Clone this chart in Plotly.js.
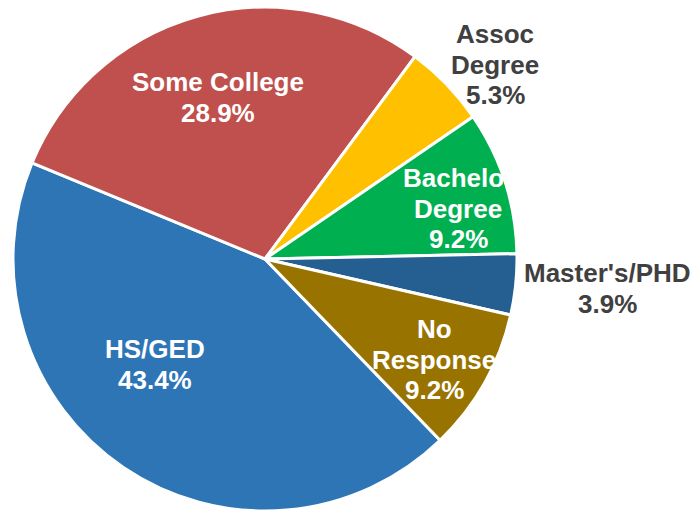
<!DOCTYPE html>
<html>
<head>
<meta charset="utf-8">
<script src="https://cdn.plot.ly/plotly-3.0.1.min.js"></script>
<style>
  html, body { margin: 0; padding: 0; overflow: hidden; background: #fff; }
  #chart { width: 695px; height: 512px; }
</style>
</head>
<body>
<div id="chart"></div>
<script>
// education level of respondents, in percent
var categories = ["HS/GED", "Some College", "Assoc Degree", "Bachelor Degree", "Master's/PHD", "No Response"];
var shares = [43.4, 28.9, 5.3, 9.2, 3.9, 9.2];
var labelLines = [["HS/GED"], ["Some College"], ["Assoc", "Degree"], ["Bachelor", "Degree"], ["Master's/PHD"], ["No", "Response"]];
var sliceColors = ["#2E75B6", "#C0504D", "#FFC000", "#00B050", "#255E91", "#997300"];

// label placement (pixels), outside labels are grey
var labelX = [155, 218, 495, 458, 607, 434];
var labelTopY = [349, 82, 34, 178, 273, 329];
var labelInside = [true, true, false, true, false, true];
var lineStep = 30.5;

var W = 695, H = 512;

var trace = {
    type: "pie",
    labels: categories,
    values: shares,
    sort: false,
    direction: "clockwise",
    rotation: 136,
    textinfo: "none",
    hoverinfo: "label+value",
    marker: { colors: sliceColors, line: { color: "#ffffff", width: 3 } },
    domain: { x: [13 / W, 517 / W], y: [1 / H, 505 / H] },
    showlegend: false
};

var annotations = [];
categories.forEach(function (c, i) {
    var lines = labelLines[i].concat([shares[i].toFixed(1) + "%"]);
    lines.forEach(function (txt, j) {
        annotations.push({
            xref: "paper", yref: "paper",
            x: labelX[i] / W,
            y: 1 - (labelTopY[i] + j * lineStep) / H,
            xanchor: "center", yanchor: "middle",
            text: txt,
            showarrow: false,
            font: {
                family: "Liberation Sans, Arial, sans-serif",
                size: 26,
                weight: "bold",
                color: labelInside[i] ? "#ffffff" : "#404040"
            }
        });
    });
});

var layout = {
    width: W,
    height: H,
    margin: { l: 0, r: 0, t: 0, b: 0 },
    paper_bgcolor: "#ffffff",
    plot_bgcolor: "#ffffff",
    annotations: annotations
};

Plotly.newPlot("chart", [trace], layout, { displayModeBar: false, staticPlot: true });
</script>
</body>
</html>
